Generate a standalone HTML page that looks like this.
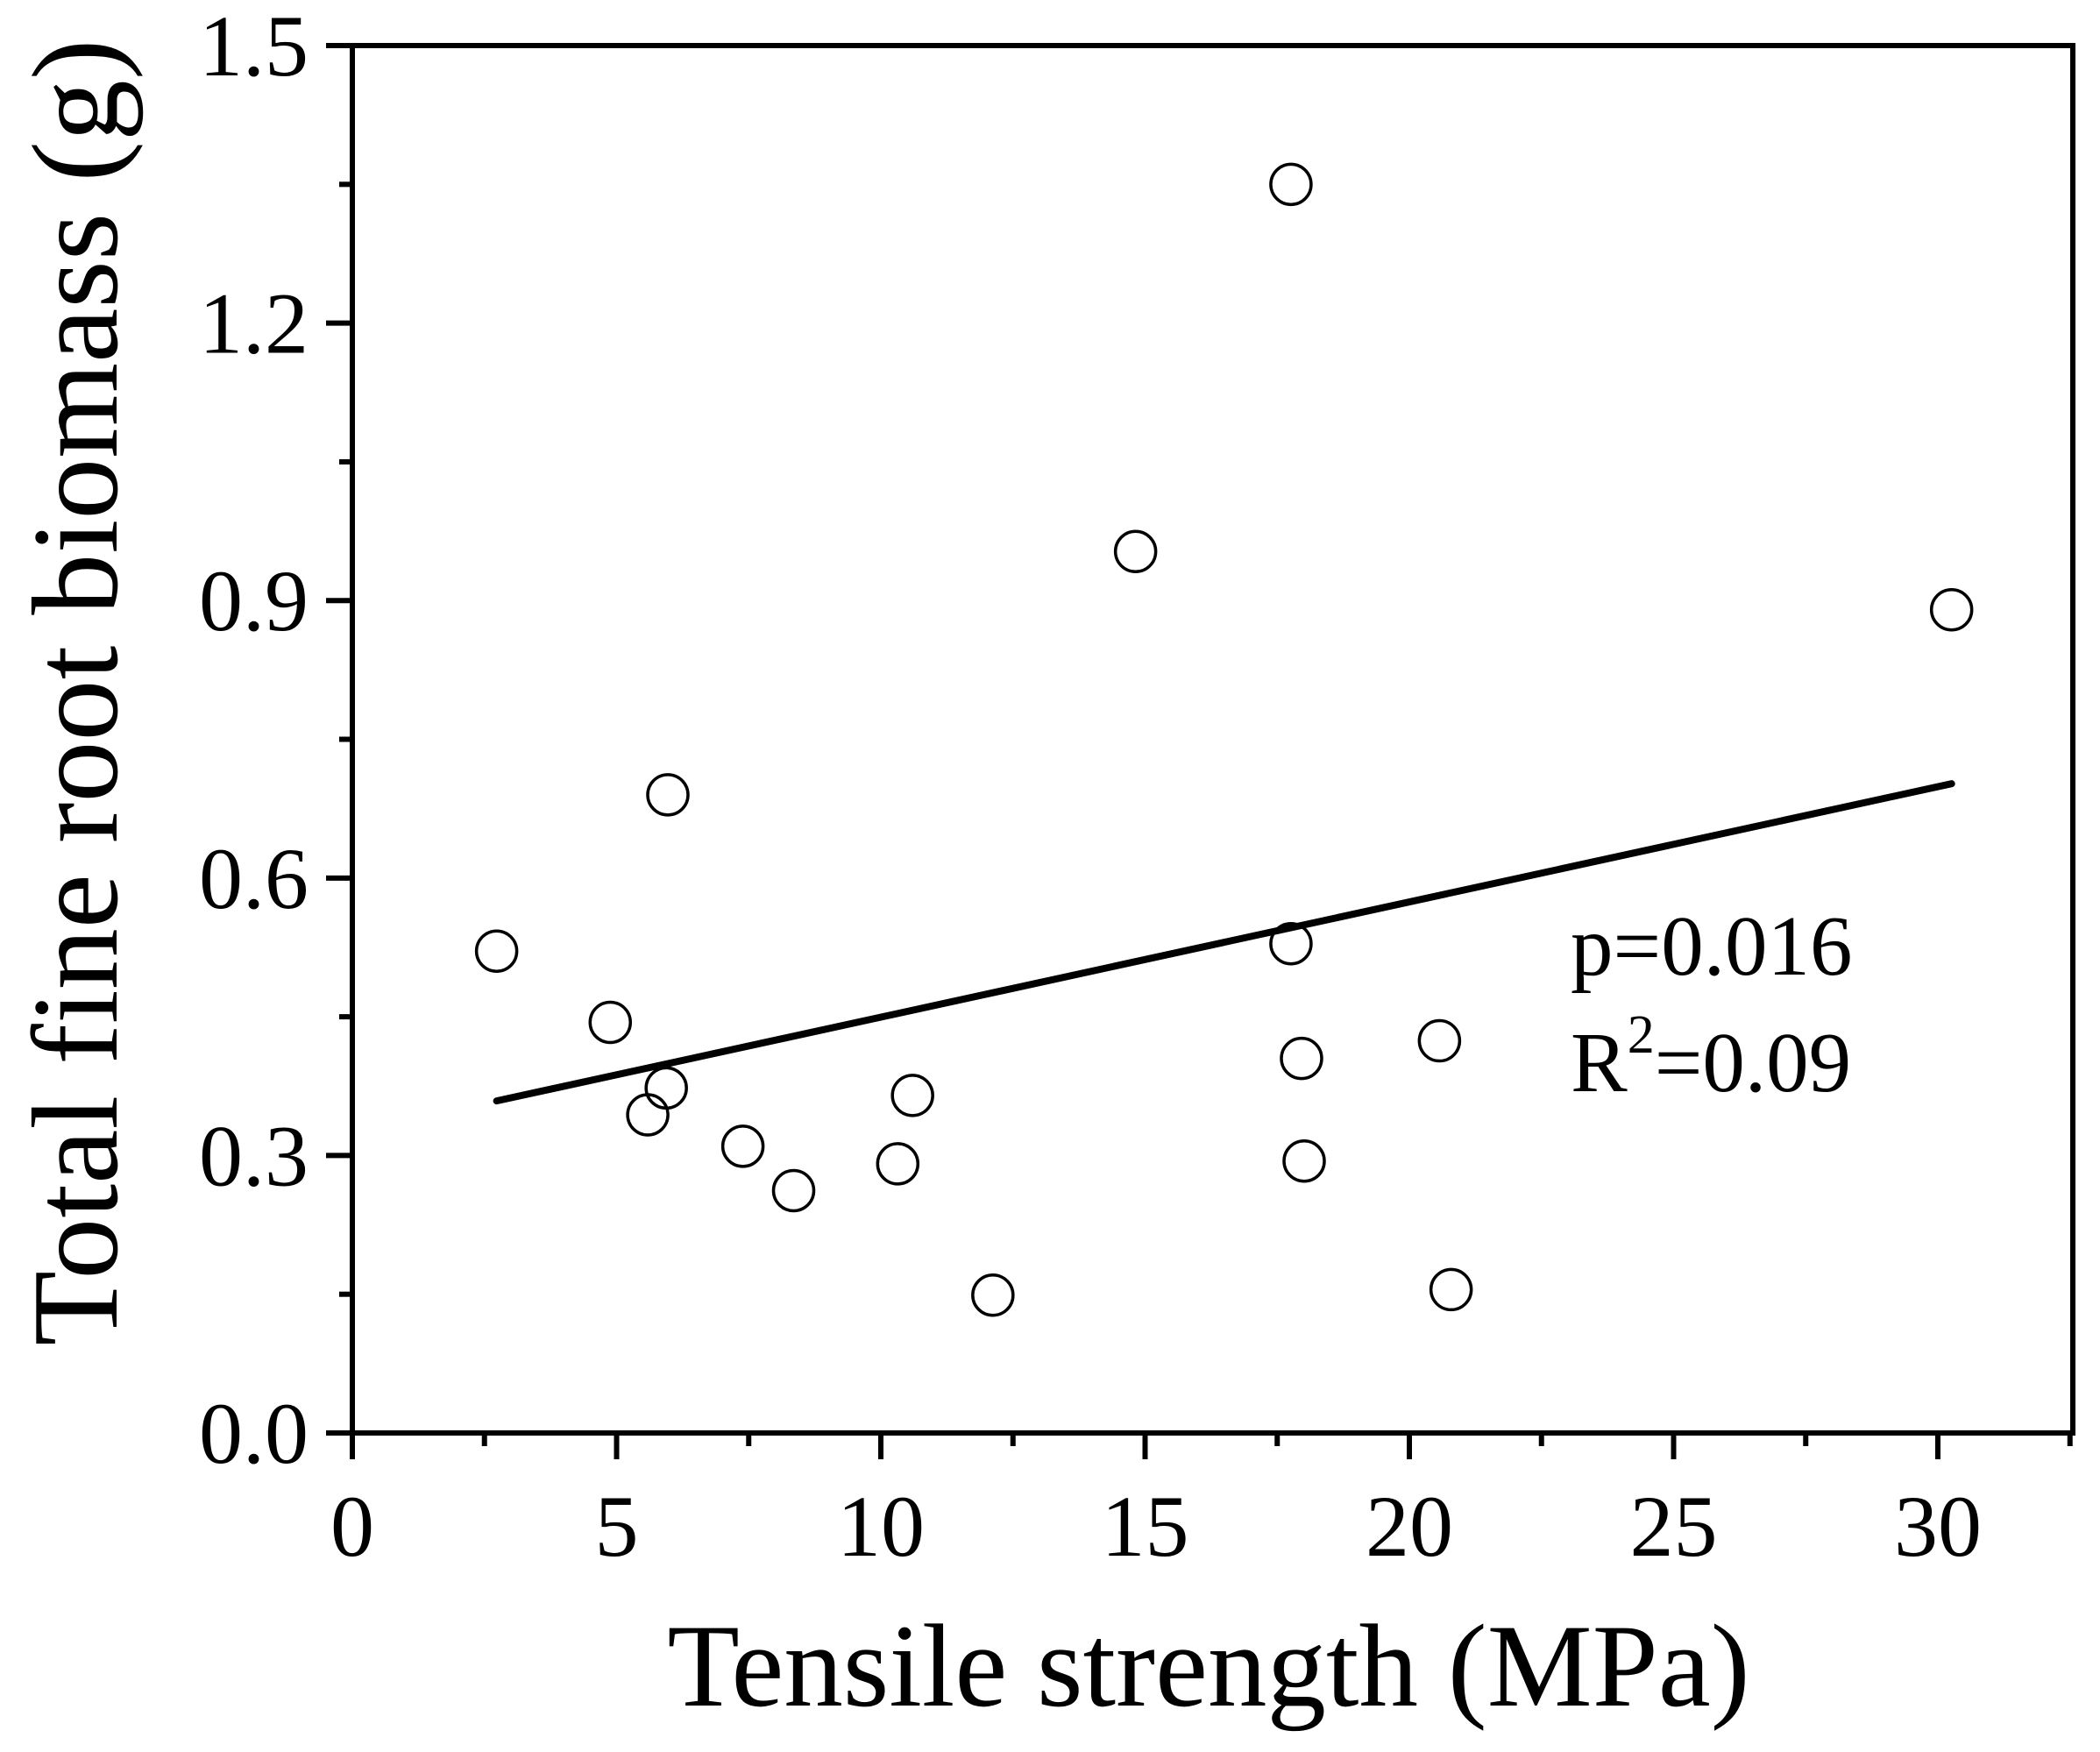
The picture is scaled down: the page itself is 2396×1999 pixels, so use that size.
<!DOCTYPE html>
<html><head><meta charset="utf-8"><style>
html,body{margin:0;padding:0;background:#fff}
svg{display:block}
text{font-family:"Liberation Serif","Times New Roman",serif;fill:#000}
</style></head>
<body>
<svg id="chart" width="2396" height="1999" viewBox="0 0 2396 1999" xmlns="http://www.w3.org/2000/svg">
<g id="axes"></g>
<g id="fit"></g>
<g id="points"></g>
<text x="1379" y="1946" font-size="135" text-anchor="middle">Tensile strength (MPa)</text>
<text transform="translate(133,790) rotate(-90)" font-size="140" text-anchor="middle">Total fine root biomass (g)</text>
<text x="1792" y="1112" font-size="97">p=0.016</text>
<text x="1792" y="1245" font-size="97">R<tspan font-size="62" dy="-44">2</tspan><tspan dy="44">=0.09</tspan></text>
</svg>
<script>
const xValues = [2.73, 4.88, 5.97, 5.94, 5.59, 7.39, 8.35, 10.32, 10.6, 12.12, 14.82, 17.76, 17.76, 17.96, 18.01, 20.57, 20.79, 30.26];
const yValues = [0.521, 0.444, 0.690, 0.373, 0.344, 0.310, 0.262, 0.291, 0.365, 0.149, 0.953, 1.350, 0.529, 0.405, 0.294, 0.424, 0.155, 0.890];
const fitStart = [2.73, 0.359];
const fitEnd = [30.26, 0.702];
const xTicks = [0, 5, 10, 15, 20, 25, 30];
const xTickLabels = ["0", "5", "10", "15", "20", "25", "30"];
const yTicks = [0, 0.3, 0.6, 0.9, 1.2, 1.5];
const yTickLabels = ["0.0", "0.3", "0.6", "0.9", "1.2", "1.5"];

const NS = "http://www.w3.org/2000/svg";
const X0 = 402, XS = 60.3, Y0 = 1635, YS = 1055.3;
const L = 402, R = 2365, T = 52, B = 1635;
const sx = v => X0 + v * XS;
const sy = v => Y0 - v * YS;
function mk(tag, attrs, parent) {
  const e = document.createElementNS(NS, tag);
  for (const k in attrs) e.setAttribute(k, attrs[k]);
  parent.appendChild(e);
  return e;
}
const axes = document.getElementById('axes');
const frame = mk('rect', {x: L, y: T, width: R - L, height: B - T, fill: 'none', stroke: '#000', 'stroke-width': 6}, axes);


for (let v = 0; v <= 32.5 + 1e-9; v += 2.5) {
  const major = Math.abs(v / 5 - Math.round(v / 5)) < 1e-6;
  const t = mk('line', {x1: sx(v), x2: sx(v), y1: B, y2: B + (major ? 30 : 15), stroke: '#000', 'stroke-width': 6}, axes);
  
  
}
xTicks.forEach((v, i) => {
  const t = mk('text', {x: sx(v), y: 1775, 'font-size': 100, 'text-anchor': 'middle'}, axes);
  t.textContent = xTickLabels[i];
  
  
});
for (let v = 0; v <= 1.5 + 1e-9; v += 0.15) {
  const major = Math.abs(v / 0.3 - Math.round(v / 0.3)) < 1e-6;
  const t = mk('line', {x1: L - (major ? 30 : 15), x2: L, y1: sy(v), y2: sy(v), stroke: '#000', 'stroke-width': 6}, axes);
  
  
}
yTicks.forEach((v, i) => {
  const t = mk('text', {x: 352, y: sy(v) + 34, 'font-size': 100, 'text-anchor': 'end'}, axes);
  t.textContent = yTickLabels[i];
  
  
});
const fit = document.getElementById('fit');
const ln = mk('line', {x1: sx(fitStart[0]), y1: sy(fitStart[1]), x2: sx(fitEnd[0]), y2: sy(fitEnd[1]), stroke: '#000', 'stroke-width': 8, 'stroke-linecap': 'round'}, fit);


const pts = document.getElementById('points');
xValues.forEach((xv, i) => {
  const c = mk('circle', {cx: sx(xv), cy: sy(yValues[i]), r: 23, fill: 'none', stroke: '#000', 'stroke-width': 3.5}, pts);
  
  
});
</script>
</body></html>
